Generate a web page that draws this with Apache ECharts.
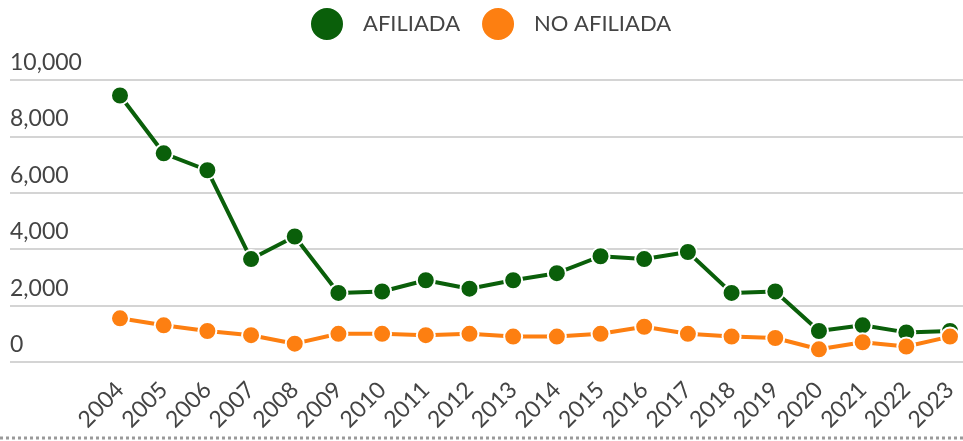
<!DOCTYPE html>
<html>
<head>
<meta charset="utf-8">
<script src="https://cdn.jsdelivr.net/npm/echarts@6/dist/echarts.min.js"></script>
<style>
  html, body { margin: 0; padding: 0; background: #fff; }
  #chart { width: 963px; height: 441px; }
</style>
</head>
<body>
<div id="chart"></div>
<script>
const years = ['2004', '2005', '2006', '2007', '2008', '2009', '2010', '2011', '2012', '2013',
  '2014', '2015', '2016', '2017', '2018', '2019', '2020', '2021', '2022', '2023']
const afiliada = [9450, 7400, 6800, 3650, 4450, 2450, 2500, 2900, 2600, 2900,
  3150, 3750, 3650, 3900, 2450, 2500, 1100, 1300, 1050, 1100]
const noAfiliada = [1550, 1300, 1100, 950, 650, 1000, 1000, 950, 1000, 900,
  900, 1000, 1250, 1000, 900, 850, 450, 700, 550, 900]
const yTicks = [0, 2000, 4000, 6000, 8000, 10000]

const green = '#0a5f0a'
const orange = '#fd7f11'
const font = 'Lato'

const chart = echarts.init(document.getElementById('chart'), null, { renderer: 'canvas' })

const option = {
  animation: false,
  textStyle: { fontFamily: font },
  legend: {
    top: 6,
    left: 309,
    padding: 0,
    icon: 'circle',
    itemWidth: 34,
    itemHeight: 34,
    itemGap: 20,
    textStyle: { fontSize: 22, color: '#444', fontFamily: font, padding: [0, 0, 0, 14] },
    data: ['AFILIADA', 'NO AFILIADA']
  },
  grid: [
    { left: 10, right: 0, top: 80, bottom: 79 },
    { left: 120, right: 13, top: 80, bottom: 79 }
  ],
  xAxis: [
    { gridIndex: 0, type: 'value', show: false, min: 0, max: 1 },
    {
      gridIndex: 1,
      type: 'category',
      data: years,
      boundaryGap: false,
      axisLine: { show: false },
      axisTick: { show: false },
      axisLabel: {
        rotate: 45,
        margin: 24,
        fontSize: 23,
        color: '#444',
        fontFamily: font
      }
    }
  ],
  yAxis: [
    {
      gridIndex: 0,
      type: 'value',
      min: yTicks[0],
      max: yTicks[yTicks.length - 1],
      interval: 2000,
      axisLine: { show: false },
      axisTick: { show: false },
      splitLine: { lineStyle: { color: '#d4d4d4', width: 2 } },
      axisLabel: {
        inside: true,
        margin: 0,
        verticalAlign: 'bottom',
        padding: [0, 0, 6, 0],
        fontSize: 23,
        color: '#444',
        fontFamily: font,
        formatter: v => v.toLocaleString('en-US')
      }
    },
    {
      gridIndex: 1,
      type: 'value',
      min: yTicks[0],
      max: yTicks[yTicks.length - 1],
      show: false,
      splitLine: { show: false }
    }
  ],
  series: [
    {
      name: 'AFILIADA',
      type: 'line',
      xAxisIndex: 1,
      yAxisIndex: 1,
      data: afiliada,
      symbol: 'circle',
      symbolSize: 18,
      lineStyle: { color: green, width: 4 },
      itemStyle: { color: green, borderColor: '#fff', borderWidth: 2 }
    },
    {
      name: 'NO AFILIADA',
      type: 'line',
      xAxisIndex: 1,
      yAxisIndex: 1,
      data: noAfiliada,
      symbol: 'circle',
      symbolSize: 18,
      lineStyle: { color: orange, width: 4 },
      itemStyle: { color: orange, borderColor: '#fff', borderWidth: 2 }
    }
  ],
  graphic: [
    {
      type: 'line',
      shape: { x1: 0, y1: 438, x2: 963, y2: 438 },
      style: { stroke: '#9a9a9a', lineWidth: 3, lineDash: [3, 3] },
      silent: true
    }
  ]
}

chart.setOption(option)
</script>
</body>
</html>
